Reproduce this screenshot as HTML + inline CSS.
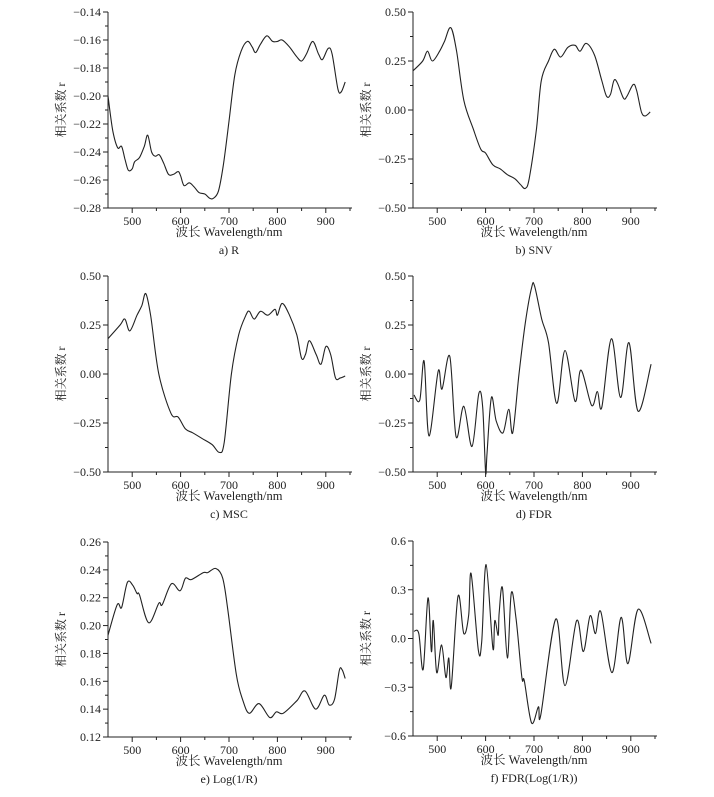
<!DOCTYPE html>
<html><head><meta charset="utf-8"><style>
html,body{margin:0;padding:0;background:#fff;}
svg{display:block;}
text{font-family:"Liberation Serif","Noto Serif CJK SC",serif;fill:#222;}
</style></head><body>
<svg id="s" width="714" height="797" xmlns="http://www.w3.org/2000/svg"></svg>
<script>
const S=document.getElementById('s');
let out='';
function path(pts){
  let d='M'+pts[0][0].toFixed(1)+','+pts[0][1].toFixed(1);
  for(let i=0;i<pts.length-1;i++){
    const p0=pts[Math.max(0,i-1)],p1=pts[i],p2=pts[i+1],p3=pts[Math.min(pts.length-1,i+2)];
    const c1=[p1[0]+(p2[0]-p0[0])/6,p1[1]+(p2[1]-p0[1])/6];
    const c2=[p2[0]-(p3[0]-p1[0])/6,p2[1]-(p3[1]-p1[1])/6];
    d+='C'+c1[0].toFixed(1)+','+c1[1].toFixed(1)+' '+c2[0].toFixed(1)+','+c2[1].toFixed(1)+' '+p2[0].toFixed(1)+','+p2[1].toFixed(1);
  }
  return d;
}
function panel(x0,y0,y1,ymin,ymax,ticks,dec,data,cap){
  const w=242;
  const X=v=>x0+(v-450)/500*w, Y=v=>y1-(v-ymin)/(ymax-ymin)*(y1-y0);
  out+=`<line x1="${x0}" y1="${y0}" x2="${x0}" y2="${y1}" stroke="#222" stroke-width="1"/>`;
  out+=`<line x1="${x0}" y1="${y1}" x2="${x0+w+2}" y2="${y1}" stroke="#222" stroke-width="1"/>`;
  for(let v=500;v<=950;v+=50){const x=X(v);const maj=v%100==0;
    out+=`<line x1="${x}" y1="${y1}" x2="${x}" y2="${y1+(maj?5:3)}" stroke="#222"/>`;
    if(maj&&v<950) out+=`<text x="${x}" y="${y1+17}" font-size="12" text-anchor="middle">${v}</text>`;}
  const st=ticks[1]-ticks[0];
  ticks.forEach((t,i)=>{const y=Y(t);
    out+=`<line x1="${x0-5}" y1="${y}" x2="${x0}" y2="${y}" stroke="#222"/>`;
    let s=t.toFixed(dec).replace('-','−');
    out+=`<text x="${x0-7}" y="${y+4}" font-size="12" text-anchor="end">${s}</text>`;
    if(i<ticks.length-1){const ym=Y(t+st/2);out+=`<line x1="${x0-3}" y1="${ym}" x2="${x0}" y2="${ym}" stroke="#222"/>`;}
  });
  const pts=data.map(p=>[X(p[0]),Y(p[1])]);
  out+=`<path d="${path(pts)}" fill="none" stroke="#222" stroke-width="1.1"/>`;
  const cx=x0+w/2;
  out+=`<text x="${cx}" y="${y1+28}" font-size="12.5" text-anchor="middle">波长 Wavelength/nm</text>`;
  out+=`<text x="${cx}" y="${y1+46}" font-size="12" text-anchor="middle">${cap}</text>`;
  const ly=(y0+y1)/2;
  out+=`<text x="0" y="0" font-size="12" text-anchor="middle" transform="translate(${x0-43},${ly}) rotate(-90)">相关系数 r</text>`;
}
const A=[[450,-0.200],[460,-0.225],[470,-0.237],[478,-0.236],[485,-0.245],[492,-0.253],[500,-0.252],[505,-0.247],[515,-0.244],[525,-0.236],[532,-0.228],[540,-0.240],[548,-0.243],[556,-0.242],[565,-0.248],[575,-0.256],[585,-0.256],[595,-0.254],[600,-0.257],[607,-0.264],[618,-0.262],[628,-0.265],[638,-0.269],[650,-0.270],[660,-0.273],[668,-0.273],[678,-0.268],[688,-0.250],[700,-0.218],[712,-0.185],[725,-0.168],[738,-0.161],[748,-0.165],[755,-0.169],[765,-0.163],[778,-0.157],[790,-0.161],[800,-0.161],[810,-0.160],[825,-0.165],[840,-0.172],[850,-0.175],[860,-0.170],[873,-0.161],[885,-0.170],[893,-0.174],[905,-0.166],[913,-0.170],[925,-0.195],[932,-0.197],[940,-0.190]];
const B=[[450,0.20],[470,0.25],[480,0.30],[490,0.25],[505,0.30],[515,0.35],[528,0.42],[540,0.30],[555,0.05],[575,-0.10],[590,-0.20],[600,-0.22],[615,-0.28],[630,-0.30],[645,-0.33],[660,-0.35],[672,-0.38],[682,-0.40],[690,-0.35],[705,-0.10],[715,0.15],[730,0.25],[742,0.31],[755,0.27],[770,0.32],[785,0.33],[795,0.30],[808,0.34],[825,0.28],[840,0.15],[850,0.07],[858,0.08],[865,0.15],[872,0.14],[885,0.06],[892,0.07],[905,0.13],[912,0.10],[922,-0.01],[930,-0.03],[940,-0.01]];
const C=[[450,0.18],[475,0.25],[485,0.28],[495,0.22],[510,0.30],[520,0.35],[528,0.41],[538,0.30],[555,0.0],[580,-0.20],[595,-0.22],[610,-0.28],[625,-0.30],[645,-0.33],[665,-0.36],[680,-0.40],[690,-0.35],[705,0.0],[720,0.20],[735,0.30],[742,0.32],[752,0.28],[765,0.32],[780,0.30],[795,0.33],[800,0.30],[810,0.36],[825,0.30],[840,0.20],[850,0.08],[858,0.10],[866,0.17],[880,0.10],[890,0.05],[900,0.14],[910,0.10],[920,-0.02],[930,-0.02],[940,-0.01]];
const D=[[452,-0.107],[464,-0.133],[473,0.066],[483,-0.316],[502,0.015],[510,-0.077],[526,0.09],[539,-0.32],[555,-0.165],[572,-0.37],[586,-0.10],[594,-0.17],[600,-0.50],[603,-0.40],[612,-0.12],[622,-0.24],[636,-0.30],[648,-0.18],[656,-0.30],[669,0.0],[682,0.26],[695,0.44],[701,0.45],[716,0.28],[730,0.16],[747,-0.15],[764,0.12],[785,-0.14],[797,0.02],[819,-0.16],[831,-0.09],[840,-0.17],[860,0.18],[879,-0.12],[896,0.16],[915,-0.19],[942,0.05]];
const E=[[450,0.193],[469,0.215],[478,0.213],[490,0.231],[501,0.229],[510,0.223],[515,0.222],[534,0.202],[555,0.216],[562,0.215],[581,0.230],[599,0.225],[610,0.234],[622,0.233],[647,0.238],[656,0.238],[673,0.241],[687,0.234],[697,0.213],[715,0.165],[729,0.146],[742,0.137],[762,0.144],[784,0.134],[798,0.138],[812,0.137],[840,0.146],[857,0.153],[879,0.140],[897,0.150],[907,0.143],[918,0.147],[928,0.168],[934,0.168],[940,0.162]];
const F=[[452,0.045],[462,0.03],[471,-0.19],[481,0.25],[488,-0.08],[492,0.11],[499,-0.21],[509,-0.04],[518,-0.24],[524,-0.12],[529,-0.30],[543,0.26],[555,0.03],[565,0.145],[570,0.40],[585,-0.07],[592,-0.02],[601,0.455],[615,-0.06],[619,0.11],[626,0.02],[628,0.16],[635,0.31],[645,-0.12],[653,0.28],[663,0.12],[675,-0.24],[680,-0.26],[695,-0.52],[709,-0.42],[714,-0.47],[745,0.12],[764,-0.29],[788,0.11],[802,-0.08],[816,0.14],[827,0.03],[838,0.165],[861,-0.21],[880,0.13],[894,-0.155],[915,0.18],[942,-0.03]];
panel(108,12,208,-0.28,-0.14,[-0.28,-0.26,-0.24,-0.22,-0.20,-0.18,-0.16,-0.14],2,A,'a) R');
panel(413,12,208,-0.5,0.5,[-0.5,-0.25,0,0.25,0.5],2,B,'b) SNV');
panel(108,276,472,-0.5,0.5,[-0.5,-0.25,0,0.25,0.5],2,C,'c) MSC');
panel(413,276,472,-0.5,0.5,[-0.5,-0.25,0,0.25,0.5],2,D,'d) FDR');
panel(108,542,737,0.12,0.26,[0.12,0.14,0.16,0.18,0.20,0.22,0.24,0.26],2,E,'e) Log(1/R)');
panel(413,541,736,-0.6,0.6,[-0.6,-0.3,0,0.3,0.6],1,F,'f) FDR(Log(1/R))');
S.innerHTML=out;
</script>
</body></html>
